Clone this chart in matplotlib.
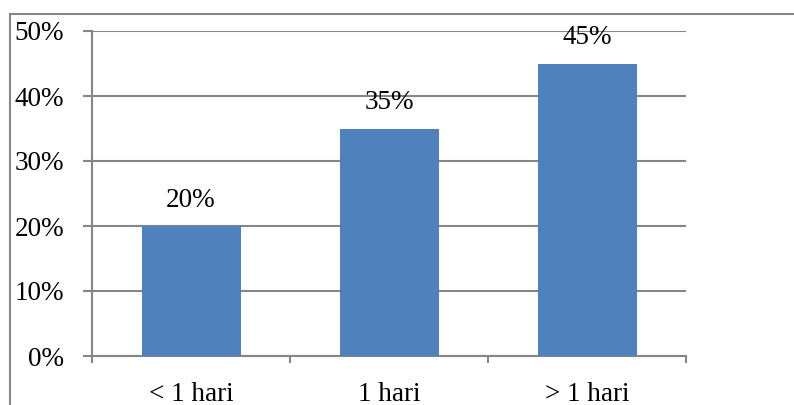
import numpy as np
import matplotlib.pyplot as plt
from matplotlib.patches import Rectangle
from matplotlib.ticker import FuncFormatter

categories = ['< 1 hari', '1 hari', '> 1 hari']
values = [20, 35, 45]
y_ticks = [0, 10, 20, 30, 40, 50]

plt.rcParams['font.family'] = ['Liberation Serif', 'DejaVu Serif']
grid_c = '#868686'
bar_c = '#4F81BD'
fs = 19.5

fig = plt.figure(figsize=(7.94, 4.05), dpi=100)
ax = fig.add_axes([92/794, 1 - 356/405, (686 - 92)/794, (356 - 31)/405])

# outer chart border (right and bottom edges run off the canvas)
fig.patches.append(Rectangle((10/794, -0.5), 2.0, 1.5 - 14/405,
                             transform=fig.transFigure, fill=False,
                             edgecolor=grid_c, linewidth=1.5))

x = np.arange(len(categories))
ax.bar(x, values, width=0.5, color=bar_c, zorder=3)
for xi, v in zip(x, values):
    ax.annotate(f'{v}%', (xi, v), xytext=(0, 13.7), textcoords='offset points',
                ha='center', va='baseline', fontsize=fs, zorder=4)

ax.set_xlim(-0.5, 2.5)
ax.set_ylim(0, 50)
ax.set_yticks(y_ticks)
ax.yaxis.set_major_formatter(FuncFormatter(lambda v, p: f'{int(v)}%'))
ax.yaxis.grid(True, color=grid_c, linewidth=1.5, zorder=0)

ax.set_xticks(x)
ax.set_xticklabels(categories)
ax.set_xticks([-0.5, 0.5, 1.5, 2.5], minor=True)
ax.tick_params(axis='x', which='major', length=0, pad=19, labelsize=fs)
ax.tick_params(axis='x', which='minor', length=5, width=1.5, color=grid_c)
ax.tick_params(axis='y', length=6.5, width=1.5, color=grid_c, pad=13.5, labelsize=fs)

for s in ['top', 'right']:
    ax.spines[s].set_visible(False)
for s in ['left', 'bottom']:
    ax.spines[s].set_color(grid_c)
    ax.spines[s].set_linewidth(1.5)

fig.savefig('out.png', dpi=100)
